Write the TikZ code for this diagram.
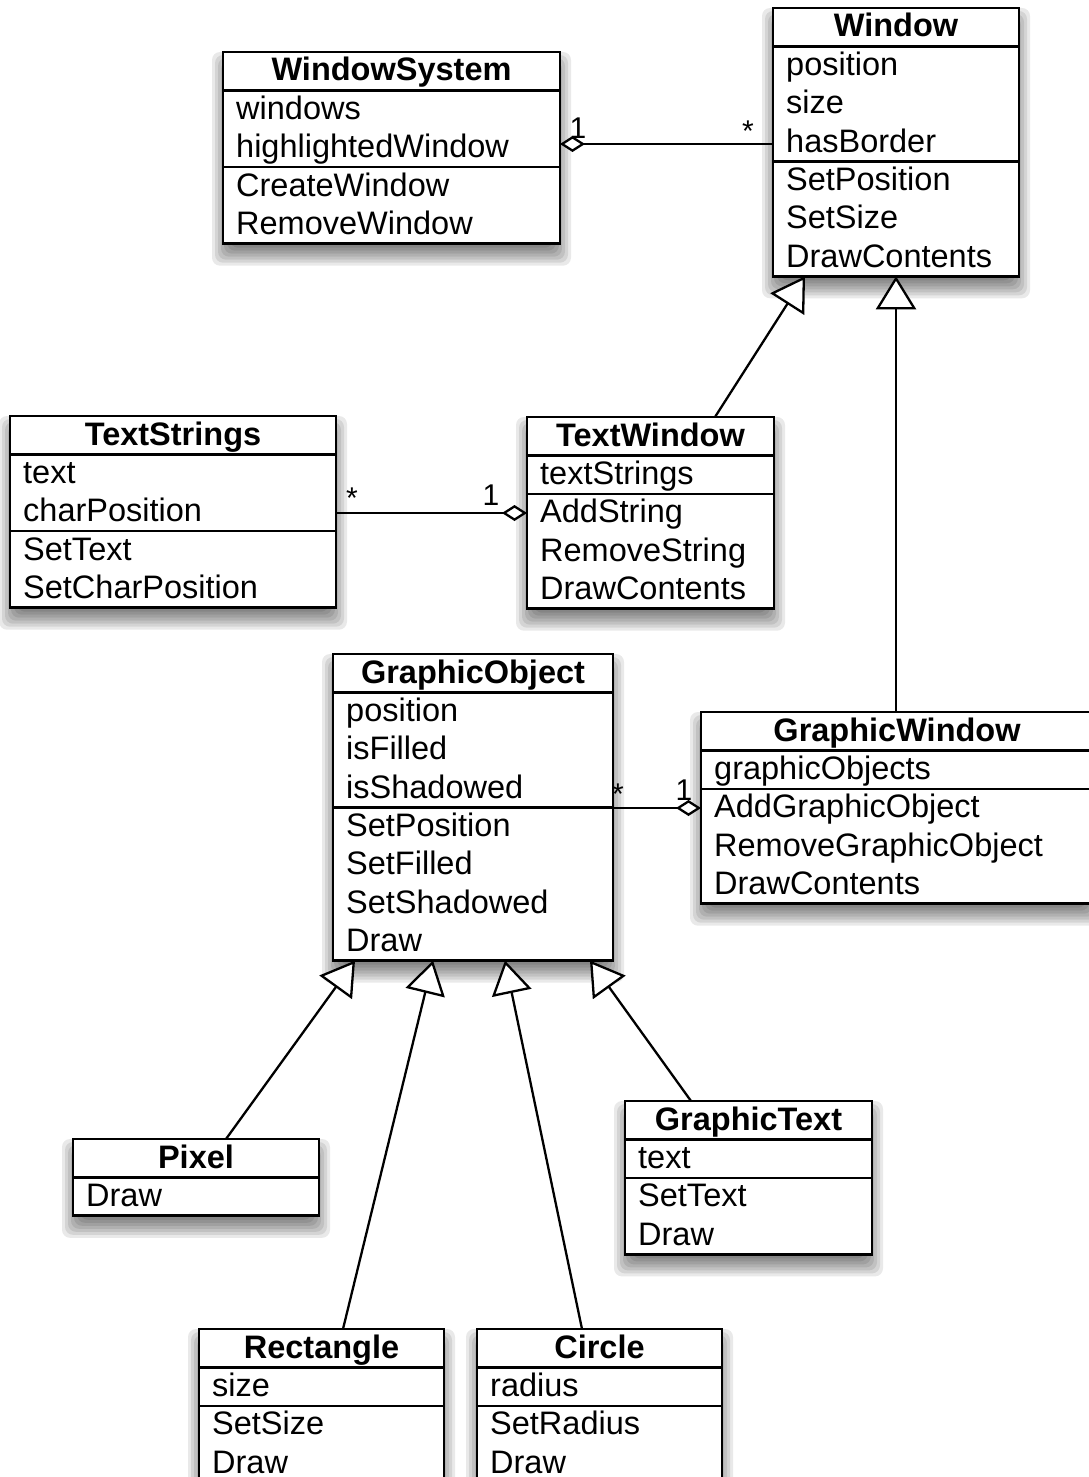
\documentclass[tikz,border=0pt]{standalone}
\usepackage{fontspec}
\setmainfont{Liberation Sans}
\usetikzlibrary{arrows.meta,calc}
\pgfdeclarelayer{back}
\pgfdeclarelayer{bg}
\pgfsetlayers{back,bg,main}
\tikzset{
  clsbox/.style={draw=black, fill=white, line width=2.8pt, inner sep=0pt, outer sep=0pt, rectangle},
  sepline/.style={line width=2.5pt},
  clstitle/.style={font=\fontsize{32.5}{38}\selectfont\bfseries, inner sep=0pt, anchor=base},
  clstext/.style={font=\fontsize{32.5}{38}\selectfont, inner sep=0pt, anchor=base west},
  mult/.style={font=\fontsize{30}{34}\selectfont, inner sep=0pt},
  conn/.style={line width=2.3pt, draw=black},
  inherit/.style={conn, -{Triangle[fill=white,length=33pt,width=40pt]}},
  aggr/.style={conn, -{Diamond[fill=white,length=25pt,width=16pt]}},
}
\newcommand{\clsT}{38.5}
\newcommand{\clsR}{38.3}
% #1 name, #2 left, #3 top, #4 width, #5 title, #6 n attrs, #7 attrs, #8 n ops, #9 ops
\newcommand{\umlcls}[9]{%
  \pgfmathsetmacro{\cA}{#3+\clsT}%
  \pgfmathsetmacro{\cB}{#3+\clsT+#6*\clsR}%
  \pgfmathsetmacro{\cC}{#3+\clsT+(#6+#8)*\clsR}%
  \pgfmathsetmacro{\cR}{#2+#4}%
  \pgfmathsetmacro{\cH}{\cC-#3}%
  \begin{pgfonlayer}{bg}
    \foreach \e in {-10,-7,-4,-1,2,5,8,11}{%
      \fill[black,opacity=0.085,rounded corners=8pt] ({#2-(\e)},{#3+11-(\e)}) rectangle ({\cR+(\e)},{\cC+11+(\e)});}
  \end{pgfonlayer}
  \node[clsbox, anchor=north west, minimum width=#4, minimum height=\cH] (#1) at (#2,#3) {};
  \node[clstitle] (#1-n) at ({#2+#4/2},{#3+29}) {#5};
  \draw[sepline] (#2,\cA) -- (\cR,\cA);
  \draw[sepline] (#2,\cB) -- (\cR,\cB);
  \ifnum#6>0
    \foreach \itm [count=\ix] in {#7}{\node[clstext] (#1-a\ix) at ({#2+13},{\cA+(\ix-1)*\clsR+29}) {\itm};}
  \fi
  \foreach \itm [count=\ix] in {#9}{\node[clstext] (#1-o\ix) at ({#2+13},{\cB+(\ix-1)*\clsR+29}) {\itm};}
}
\begin{document}
\begin{tikzpicture}[x=1pt,y=-1pt]
\useasboundingbox (0,0) rectangle (1089,1477);
\begin{pgfonlayer}{back}
\fill[white] (0,0) rectangle (1089,1477);
\end{pgfonlayer}

\umlcls{ws}{223}{52}{337}{WindowSystem}{2}{windows,highlightedWindow}{2}{CreateWindow,RemoveWindow}
\umlcls{win}{773}{8}{246}{Window}{3}{position,size,hasBorder}{3}{SetPosition,SetSize,DrawContents}
\umlcls{ts}{10}{416}{326}{TextStrings}{2}{text,charPosition}{2}{SetText,SetCharPosition}
\umlcls{tw}{527}{417}{247}{TextWindow}{1}{textStrings}{3}{AddString,RemoveString,DrawContents}
\umlcls{go}{333}{654}{280}{GraphicObject}{3}{position,isFilled,isShadowed}{4}{SetPosition,SetFilled,SetShadowed,Draw}
\umlcls{gw}{701}{712}{392}{GraphicWindow}{1}{graphicObjects}{3}{AddGraphicObject,RemoveGraphicObject,DrawContents}
\umlcls{px}{73}{1139}{246}{Pixel}{0}{}{1}{Draw}
\umlcls{gt}{625}{1101}{247}{GraphicText}{1}{text}{2}{SetText,Draw}
\umlcls{rc}{199}{1329}{245}{Rectangle}{1}{size}{2}{SetSize,Draw}
\umlcls{ci}{477}{1329}{245}{Circle}{1}{radius}{2}{SetRadius,Draw}

% aggregations
\draw[aggr] ($(win.north west)+(0,136)$) -- ($(ws.north east)+(0,92)$);
\node[mult] (m1) at (578,128) {1};
\node[mult] (m2) at (748,131) {*};

\draw[aggr] ($(ts.north east)+(0,97)$) -- ($(tw.north west)+(0,96)$);
\node[mult] (m3) at (352,498) {*};
\node[mult] (m4) at (491,495) {1};

\draw[aggr] ($(go.north east)+(0,154)$) -- ($(gw.north west)+(0,96)$);
\node[mult] (m5) at (618,794) {*};
\node[mult] (m6) at (684,790) {1};

% generalizations
\draw[inherit] ($(tw.north west)+(188,0)$) -- ($(win.south west)+(32,0)$);
\draw[inherit] ($(gw.north west)+(195,0)$) -- ($(win.south west)+(123,0)$);
\draw[inherit] ($(px.north west)+(153,0)$) -- ($(go.south west)+(22,0)$);
\draw[inherit] ($(rc.north west)+(144,0)$) -- ($(go.south west)+(100,0)$);
\draw[inherit] ($(ci.north west)+(105,0)$) -- ($(go.south west)+(172,0)$);
\draw[inherit] ($(gt.north west)+(66,0)$) -- ($(go.south west)+(257,0)$);
\end{tikzpicture}
\end{document}
